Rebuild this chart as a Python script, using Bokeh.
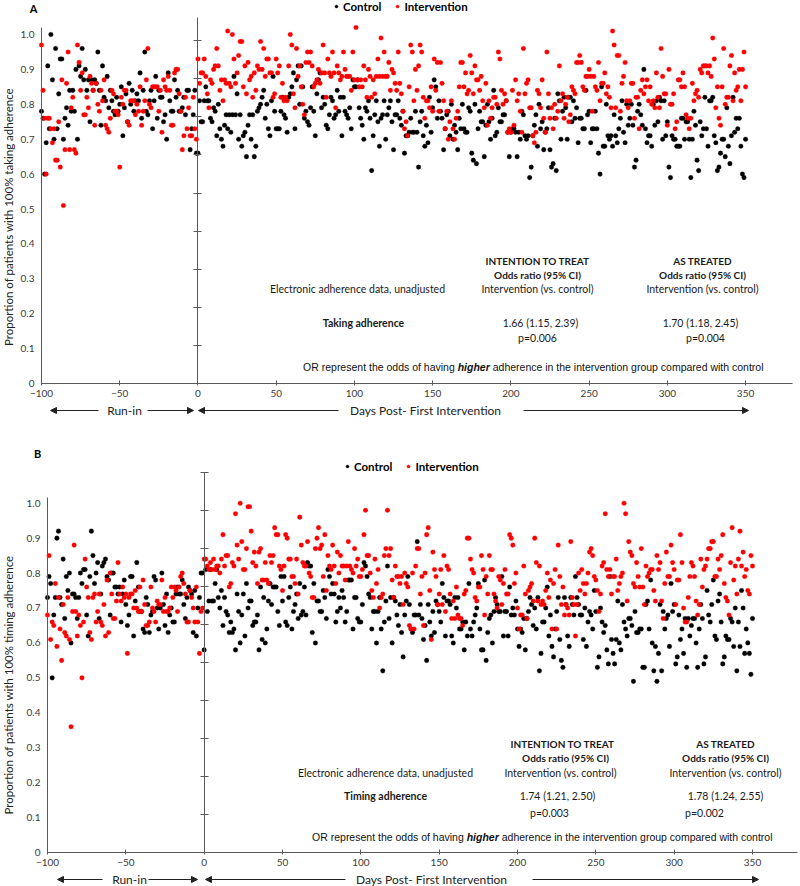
import math
from bokeh.plotting import figure
from bokeh.models import (Range1d, LinearAxis, FixedTicker, Label, Arrow, NormalHead,
                          Legend, LegendItem, CustomJSTickFormatter)
from bokeh.layouts import column
from bokeh.embed import file_html
from bokeh.resources import INLINE

# ---------------- data (daily proportions, in percent) ----------------
SERIES_NAMES = ["Control", "Intervention"]
SERIES_COLORS = ["#000000", "#ff0000"]
X_TICKS = [-100, -50, 0, 50, 100, 150, 200, 250, 300, 350]
Y_TICKS = [0, 0.1, 0.2, 0.3, 0.4, 0.5, 0.6, 0.7, 0.8, 0.9, 1.0]
INNER_TICKS_A = [0.1, 0.2, 0.3, 0.4, 0.5, 0.6, 0.7, 0.8, 0.9]
INNER_TICKS_B = [0.1, 0.2, 0.3, 0.4, 0.5, 0.6, 0.7, 0.8, 0.9, 1.0]
RUNIN_START = -100

A_CTRL_RUNIN = [
    78, 76, 60, 69, 91, 73, 100, 87, 70, 96,
    73, 83, 93, 93, 70, 76, 79, 74, 84, 78,
    84, 78, 90, 70, 91, 88, 96, 87, 90, 84,
    87, 75, 87, 84, 87, 86, 95, 84, 74, 91,
    82, 81, 88, 79, 84, 81, 78, 77, 82, 78,
    80, 85, 71, 79, 83, 75, 86, 80, 84, 78,
    81, 83, 81, 89, 76, 84, 95, 78, 77, 81,
    84, 73, 81, 88, 76, 84, 82, 82, 75, 77,
    70, 89, 81, 78, 78, 87, 82, 84, 78, 78,
    79, 82, 77, 84, 84, 67, 73, 77, 84, 66]
A_INT_RUNIN = [
    97, 84, 76, 60, 76, 76, 73, 69, 73, 64,
    64, 75, 62, 87, 51, 67, 86, 95, 67, 79,
    82, 67, 66, 97, 92, 84, 89, 77, 77, 82,
    79, 88, 86, 84, 74, 86, 80, 78, 84, 81,
    87, 74, 73, 72, 76, 84, 83, 78, 78, 77,
    62, 82, 80, 84, 84, 75, 74, 81, 81, 81,
    77, 80, 78, 85, 74, 78, 81, 87, 96, 80,
    79, 85, 85, 85, 85, 78, 84, 72, 87, 85,
    84, 88, 84, 74, 74, 89, 90, 90, 83, 78,
    67, 71, 82, 73, 79, 71, 71, 82, 73, 70]
A_CTRL_MAIN = [
    66, 81, 75, 75, 81, 85, 81, 81, 76, 75, 79,
    78, 71, 80, 73, 70, 68, 74, 77, 73, 77, 72,
    77, 88, 77, 83, 70, 77, 68, 71, 72, 65, 74,
    77, 70, 77, 65, 68, 78, 79, 80, 82, 84, 76,
    80, 73, 71, 81, 88, 78, 73, 73, 73, 78, 82,
    77, 76, 72, 82, 83, 85, 89, 73, 87, 91, 80,
    91, 85, 76, 78, 75, 74, 79, 85, 78, 71, 83,
    87, 89, 79, 82, 80, 74, 73, 77, 82, 81, 76,
    77, 84, 78, 82, 71, 82, 78, 77, 76, 79, 73,
    87, 85, 85, 87, 79, 76, 74, 70, 79, 78, 81,
    76, 61, 71, 77, 81, 75, 68, 76, 77, 81, 70,
    77, 79, 81, 75, 67, 77, 77, 81, 76, 74, 78,
    66, 71, 71, 72, 76, 72, 72, 78, 72, 62, 75,
    78, 71, 68, 74, 69, 82, 72, 79, 87, 85,
    76, 81, 78, 76, 67, 73, 77, 78, 71, 80,
    70, 74, 72, 67, 76, 73, 80, 73, 72, 72,
    79,
    78, 66, 64, 80, 63, 73, 78, 75, 75, 65, 74,
    80, 75, 70, 76, 84, 71, 72, 79, 75, 75, 77,
    77, 81, 72, 65, 72, 73, 73, 72, 65, 72, 70,
    78, 77, 71, 70, 71, 59, 62, 71, 74, 77, 68,
    80, 73, 75, 67, 72, 73, 79, 67, 62, 63, 76,
    61, 83, 81, 70, 78, 82, 79, 70, 82, 82, 75,
    81, 76, 79, 69, 76, 76, 73, 73, 84, 77, 78,
    69, 73, 73, 78, 73, 66, 60, 85, 68, 68, 80,
    71, 70, 71, 68, 77, 71, 69, 73, 76, 81, 72,
    69, 80, 74, 76, 80, 74, 62, 64, 78, 80, 77,
    74, 90, 73, 69, 71, 71, 68, 80, 74, 81,
    75, 82, 81, 70, 81, 71, 75, 62, 59, 71,
    70, 70, 68, 68, 68, 76, 76, 70, 75, 75,
    70, 59, 70, 78, 74, 64, 61, 75, 71, 73,
    82, 73, 68, 81, 81, 82, 71, 69, 61, 62,
    66, 70, 70, 65, 79, 68, 63, 71, 82, 72,
    76, 73, 76, 68, 60, 59, 70]
A_INT_MAIN = [
    93, 86, 89, 89, 93, 88, 83, 79, 87, 86, 90,
    91, 96, 91, 84, 87, 81, 87, 86, 101, 86, 85,
    100, 93, 86, 89, 94, 98, 98, 85, 91, 83, 92,
    87, 88, 82, 89, 84, 91, 90, 98, 90, 96, 88,
    93, 93, 89, 89, 82, 83, 93, 89, 91, 82, 86,
    81, 82, 81, 91, 100, 97, 83, 79, 96, 88, 91,
    85, 80, 77, 92, 95, 92, 95, 91, 85, 86, 87,
    90, 86, 89, 97, 89, 82, 93, 89, 88, 95, 89,
    79, 91, 89, 87, 88, 95, 90, 88, 88, 88, 84,
    95, 87, 102, 87, 85, 87, 85, 91, 87, 82, 90,
    88, 82, 87, 83, 88, 93, 88, 99, 88, 95,
    88, 88, 92, 84, 90, 89, 86, 84, 95, 86,
    83, 78, 73, 75, 71, 85, 97, 95, 81, 90,
    84, 91, 97, 95, 82, 76, 81, 81, 79, 85,
    78, 93, 84, 92, 78, 92, 86, 81, 73, 78,
    70, 75, 81, 73, 70, 76, 78, 85, 92, 92,
    85, 89, 83, 84,
    94, 89, 83, 91, 87, 87, 84, 88, 81, 79, 86,
    74, 81, 76, 79, 82, 82, 80, 95, 93, 84, 80,
    83, 81, 72, 73, 72, 84, 74, 87, 81, 83, 78,
    72, 96, 83, 86, 87, 79, 79, 71, 69, 72, 84,
    83, 79, 87, 76, 72, 95, 83, 76, 79, 73, 80,
    76, 78, 91, 81, 83, 76, 80, 82, 75, 77, 85,
    84, 83, 92, 92, 94, 92, 85, 84, 88, 88, 90,
    88, 78, 88, 85, 84, 92, 81, 86, 86, 89, 83,
    85, 82, 79, 101, 97, 79, 94, 94, 78, 86, 88,
    92, 81, 79, 81, 86, 86, 76, 82, 82, 73, 84,
    87, 83, 85, 87, 81, 85, 80, 81, 79, 89, 82,
    79, 96, 88, 83, 83, 74, 90, 80, 80, 83,
    73, 75, 87, 87, 85, 89, 85, 77, 76, 73,
    76, 86, 81, 83, 84, 82, 90, 89, 91, 91,
    91, 89, 91, 88, 99, 93, 79, 85, 76, 74,
    85, 96, 80, 82, 82, 91, 94, 81, 89, 84,
    85, 90, 81, 90, 95, 85]

B_CTRL_RUNIN = [
    73, 79, 77, 50, 68, 73, 90, 92, 73, 71,
    84, 67, 79, 75, 80, 60, 74, 74, 73, 67,
    73, 80, 77, 81, 81, 68, 62, 79, 92, 85,
    77, 80, 83, 67, 74, 82, 83, 84, 79, 78,
    68, 80, 80, 76, 76, 74, 76, 66, 74, 78,
    71, 65, 68, 79, 79, 62, 72, 83, 76, 69,
    69, 64, 63, 73, 71, 63, 68, 69, 79, 78,
    70, 64, 70, 80, 71, 65, 74, 63, 68, 70,
    66, 66, 74, 76, 74, 74, 78, 71, 67, 73,
    76, 75, 74, 63, 75, 62, 70, 73, 80, 80]
B_INT_RUNIN = [
    68, 85, 61, 66, 65, 77, 59, 73, 64, 55,
    71, 63, 62, 73, 61, 36, 69, 88, 69, 62,
    68, 65, 50, 66, 84, 76, 73, 63, 61, 73,
    74, 66, 69, 74, 66, 65, 71, 62, 78, 63,
    80, 74, 67, 67, 72, 83, 74, 72, 76, 73,
    74, 57, 73, 74, 74, 70, 75, 70, 69, 76,
    69, 78, 71, 65, 65, 66, 76, 70, 69, 66,
    72, 71, 71, 78, 69, 73, 69, 69, 70, 76,
    73, 76, 75, 69, 76, 79, 80, 77, 74, 66,
    66, 75, 73, 70, 66, 76, 66, 57, 69, 70]
B_CTRL_MAIN = [
    58, 81, 69, 72, 81, 72, 72, 77, 81, 73, 70,
    75, 65, 73, 69, 68, 63, 66, 63, 64, 58, 74,
    69, 60, 68, 74, 62, 77, 70, 72, 72, 65, 66,
    66, 68, 58, 76, 61, 73, 60, 64, 72, 77, 71,
    76, 76, 76, 69, 65, 79, 72, 79, 66, 65, 73,
    76, 64, 69, 71, 74, 67, 77, 68, 69, 76, 68,
    83, 82, 82, 63, 77, 60, 72, 72, 69, 69, 75,
    73, 67, 81, 79, 74, 77, 74, 66, 69, 73, 70,
    75, 73, 66, 69, 78, 78, 78, 64, 73, 73, 67,
    66, 66, 71, 83, 82, 79, 74, 73, 64, 69,
    69, 60, 69, 73, 64, 52, 66, 72, 82, 67,
    73, 60, 73, 72, 68, 65, 71, 63, 56, 68,
    72, 79, 71, 64, 63, 68, 68, 89, 68, 71,
    67, 61, 65, 55, 71, 66, 62, 69, 63, 72,
    71, 69, 66, 77, 73, 62, 72, 72, 71, 62,
    60, 73, 70, 73, 64, 64, 66, 58, 66, 62,
    77, 64, 62, 66, 68, 70, 77, 64, 58, 58,
    78, 55, 63, 67, 68, 60, 69, 73, 71, 69,
    69, 79, 62, 69, 69, 62, 76, 68, 70, 68, 72,
    64, 59, 64, 63, 67, 58, 67, 69, 73, 71, 65,
    70, 64, 73, 52, 57, 66, 66, 70, 76, 62, 68,
    59, 56, 64, 69, 73, 61, 55, 53, 73, 71, 62,
    59, 73, 71, 68, 79, 73, 71, 68, 68, 61, 70,
    59, 66, 69, 68, 64, 75, 69, 53, 56, 70, 66,
    63, 65, 58, 54, 79, 61, 57, 54, 61, 72, 60,
    58, 71, 66, 64, 62, 67, 67, 65, 49, 69, 63,
    63, 64, 64, 53, 53, 71, 72, 64, 78, 60,
    52, 59, 49, 57, 71, 52, 69, 64, 67, 68,
    59, 77, 69, 71, 54, 56, 68, 61, 64, 57,
    67, 53, 67, 62, 65, 67, 67, 60, 53, 64,
    71, 67, 54, 56, 75, 68, 66, 71, 78, 62,
    61, 72, 74, 66, 54, 56, 62, 61, 61, 67,
    66, 59, 70, 52, 66, 59, 75, 70, 57, 64,
    60, 57, 51, 67]
B_INT_MAIN = [
    84, 84, 82, 81, 83, 81, 84, 81, 82, 82, 80,
    84, 91, 82, 85, 85, 76, 77, 83, 82, 97, 88,
    84, 100, 89, 81, 81, 87, 99, 99, 92, 83, 86,
    82, 77, 86, 87, 78, 78, 83, 78, 77, 85, 83,
    85, 93, 91, 91, 82, 81, 75, 82, 91, 90, 84,
    84, 79, 79, 77, 84, 74, 96, 88, 83, 82, 82,
    89, 80, 79, 73, 73, 87, 90, 93, 87, 88, 79,
    91, 75, 85, 82, 81, 88, 82, 77, 86, 80, 85,
    82, 82, 78, 82, 89, 82, 81, 80, 87, 82,
    84, 79, 79, 81, 91, 98, 85, 85, 80, 75,
    73, 84, 77, 81, 70, 73, 74, 85, 87, 98,
    85, 87, 78, 73, 82, 79, 79, 77, 79, 71,
    80, 77, 76, 65, 64, 80, 64, 82, 87, 87,
    74, 79, 65, 80, 91, 93, 75, 61, 86, 81,
    79, 71, 74, 81, 71, 85, 69, 82, 81, 74,
    67, 72, 67, 76, 68, 67, 67, 65, 74, 75,
    90, 90, 84, 81, 80, 73, 72, 76, 76, 85,
    81, 68, 79, 74, 85, 81, 81, 74, 72, 70,
    79,
    78, 71, 77, 81, 74, 74, 91, 90, 88, 77, 80,
    70, 64, 68, 68, 82, 74, 67, 75, 76, 77, 72,
    90, 83, 72, 82, 71, 72, 71, 75, 80, 73, 78,
    64, 77, 81, 64, 88, 79, 71, 76, 68, 71, 70,
    68, 89, 73, 71, 62, 71, 80, 75, 81, 77, 74,
    77, 80, 86, 87, 85, 79, 78, 75, 69, 74, 82,
    83, 97, 81, 79, 81, 74, 79, 79, 84, 75, 77,
    79, 80, 100, 97, 72, 89, 86, 85, 77, 76, 83,
    79, 76, 87, 76, 71, 82, 79, 80, 81, 81, 75,
    72, 85, 81, 83, 72, 67, 77, 86, 79, 79,
    88, 83, 81, 71, 78, 78, 91, 83, 70, 66,
    66, 73, 79, 83, 82, 79, 72, 68, 71, 84,
    76, 81, 82, 84, 87, 87, 89, 89, 79, 79,
    84, 81, 85, 91, 77, 73, 72, 68, 83, 93,
    78, 82, 74, 84, 92, 82, 86, 79, 81, 75,
    74, 85, 82]

# ---------------- styling ----------------
CAL = "Lato"
ARI = "Liberation Sans"
INK = "#1a1a1a"
AXC = "#5a5a5a"
TICKC = "#3a3a3a"

ARIAL_W = {' ': 278, 'a': 556, 'b': 556, 'c': 500, 'd': 556, 'e': 556, 'f': 278, 'g': 556,
           'h': 556, 'i': 222, 'j': 222, 'k': 500, 'l': 222, 'm': 833, 'n': 556, 'o': 556,
           'p': 556, 'q': 556, 'r': 333, 's': 500, 't': 278, 'u': 556, 'v': 500, 'w': 722,
           'x': 500, 'y': 500, 'z': 500, 'O': 778, 'R': 722}
ARIAL_BW = {'h': 611, 'i': 278, 'g': 611, 'e': 556, 'r': 389}


def tw(s, size, table):
    return sum(table.get(c, 556) for c in s) * size / 1000.0


def build(spec):
    # geometry in reference pixels: canvas box, x/y origin and scales
    CX0, CY0, CX1, CY1 = spec["canvas"]
    X100, KX = spec["x_at_m100"], spec["kx"]
    Y0, KY = spec["y_at_0"], spec["ky"]
    x_lo = RUNIN_START - (X100 - CX0) / KX
    x_hi = RUNIN_START + (CX1 - X100) / KX
    y_hi = (Y0 - CY0) / KY
    y_lo = -(CY1 - Y0) / KY
    KI = spec["k_inner"]

    p = figure(width=CX1 - CX0, height=CY1 - CY0, title=None,
               min_border_left=0, min_border_right=0, min_border_top=0, min_border_bottom=0,
               x_range=Range1d(x_lo, x_hi), y_range=Range1d(y_lo, y_hi),
               output_backend="svg", toolbar_location=None, outline_line_color=None)
    p.xgrid.visible = False
    p.ygrid.visible = False

    # left (labelled) y axis, drawn at day -100
    ya = p.yaxis[0]
    ya.fixed_location = RUNIN_START
    ya.ticker = FixedTicker(ticks=Y_TICKS)
    ya.formatter = CustomJSTickFormatter(code="return tick == 0 ? '0' : tick.toFixed(1);")
    ya.bounds = (0, spec["ybound"])
    ya.major_tick_in = 0
    ya.major_tick_out = 0
    ya.minor_tick_in = 0
    ya.minor_tick_out = 0
    ya.axis_line_color = AXC
    ya.major_label_text_font = CAL
    ya.major_label_text_font_size = "10px"
    ya.major_label_text_color = TICKC
    ya.major_label_standoff = 7

    # x axis, drawn at proportion 0
    xa = p.xaxis[0]
    xa.fixed_location = 0
    xa.ticker = FixedTicker(ticks=X_TICKS)
    xa.bounds = (RUNIN_START, spec["xbound"])
    xa.major_tick_in = 3
    xa.major_tick_out = 2
    xa.minor_tick_in = 0
    xa.minor_tick_out = 0
    xa.axis_line_color = AXC
    xa.major_tick_line_color = AXC
    xa.major_label_text_font = CAL
    xa.major_label_text_font_size = "10px"
    xa.major_label_text_color = TICKC
    xa.major_label_standoff = 4

    # inner axis of the post-intervention part (unlabelled, at day 0)
    p.extra_y_ranges = {"inner": Range1d(-(CY1 - Y0) / KI, (Y0 - CY0) / KI)}
    ia = LinearAxis(y_range_name="inner", fixed_location=0,
                    ticker=FixedTicker(ticks=spec["inner_ticks"]),
                    formatter=CustomJSTickFormatter(code="return '';"),
                    bounds=(0, (Y0 - spec["inner_top_y"]) / KI),
                    major_tick_in=4, major_tick_out=4, minor_tick_in=0, minor_tick_out=0,
                    axis_line_color=AXC, major_tick_line_color=AXC)
    p.add_layout(ia, "left")

    renderers = []
    for runin, main, color in zip(spec["runin"], spec["main"], SERIES_COLORS):
        days = list(range(RUNIN_START, 0)) + list(range(0, len(main)))
        vals = [v / 100.0 for v in runin + main]
        r = p.scatter(days, vals, size=4.6, fill_color=color, line_color=color, line_width=0.3)
        renderers.append(r)

    def put(x, y, text, size, font=CAL, style="normal", align="center", color=INK, angle=0.0):
        p.add_layout(Label(x=x - CX0, y=CY1 - y, x_units="screen", y_units="screen", text=text,
                           text_font=font, text_font_size=f"{size}px", text_font_style=style,
                           text_align=align, text_baseline="middle", text_color=color,
                           angle=angle))

    def arrow(x0, x1, y):
        p.add_layout(Arrow(end=NormalHead(size=6, fill_color="#222222", line_color="#222222"),
                           x_start=x0 - CX0, y_start=CY1 - y, x_end=x1 - CX0, y_end=CY1 - y,
                           start_units="screen", end_units="screen",
                           line_color="#222222", line_width=1))

    # panel letter and legend
    lx, ly = spec["letter"]
    put(lx, ly, spec["letter_text"], 11, style="bold", color="#000000")
    gx, gy = spec["legend"]
    legend = Legend(items=[LegendItem(label=SERIES_NAMES[0], renderers=[renderers[0]]),
                           LegendItem(label=SERIES_NAMES[1], renderers=[renderers[1]])],
                    orientation="horizontal", location=(gx - CX0, CY1 - gy - 7),
                    glyph_width=8, glyph_height=8, label_standoff=3, spacing=12,
                    padding=0, margin=0, label_height=14,
                    border_line_color=None, background_fill_alpha=0,
                    label_text_font=CAL, label_text_font_style="bold",
                    label_text_font_size="11.5px", label_text_color="#000000")
    p.add_layout(legend)

    # y axis title
    tx, ty = spec["ylabel_pos"]
    put(tx, ty, spec["ylabel"], 11.5, angle=math.pi / 2, color="#222222")

    # statistics table
    for (x, y, text, size, style) in spec["table"]:
        put(x, y, text, size, style=style)

    # sentence with emphasised word
    rx, ry = spec["or_pos"]
    fs = 10.5
    p1 = "OR represent the odds of having"
    p2 = "higher"
    p3 = "adherence in the intervention group compared with control"
    sp = tw(" ", fs, ARIAL_W)
    w1, w2, w3 = tw(p1, fs, ARIAL_W), tw(p2, fs, ARIAL_BW), tw(p3, fs, ARIAL_W)
    x0 = rx - (w1 + sp + w2 + sp + w3)
    put(x0, ry, p1, fs, font=ARI, align="left", color="#111111")
    put(x0 + w1 + sp, ry, p2, fs, font=ARI, style="bold italic", align="left", color="#111111")
    put(x0 + w1 + sp + w2 + sp, ry, p3, fs, font=ARI, align="left", color="#111111")

    # bottom arrows / period names
    ay = spec["arrow_y"]
    for (a0, a1) in spec["arrows"]:
        arrow(a0, a1, ay)
    for (x, text) in spec["periods"]:
        put(x, ay, text, 12, color="#222222")
    return p


# geometry is given in reference-image pixels (the page has no offset)
SPEC_A = dict(
    canvas=(0, 0, 800, 438), x_at_m100=41, kx=751 / 480, y_at_0=383, ky=349.0,
    k_inner=381.0, inner_top_y=17, ybound=1.02, xbound=380, inner_ticks=INNER_TICKS_A,
    runin=[A_CTRL_RUNIN, A_INT_RUNIN], main=[A_CTRL_MAIN, A_INT_MAIN],
    letter=(33, 8), letter_text="A", legend=(332, 6),
    ylabel_pos=(8, 215), ylabel="Proportion of patients with 100%  taking adherence",
    table=[(537, 260, "INTENTION TO TREAT", 10, "bold"),
           (537, 274, "Odds ratio (95% CI)", 10, "bold"),
           (702, 260, "AS TREATED", 10, "bold"),
           (702, 274, "Odds ratio (95% CI)", 10, "bold"),
           (357, 288, "Electronic adherence data, unadjusted", 10.5, "normal"),
           (537, 288, "Intervention (vs. control)", 10.5, "normal"),
           (702, 288, "Intervention (vs. control)", 10.5, "normal"),
           (363, 322, "Taking adherence", 10.5, "bold"),
           (540, 322, "1.66 (1.15, 2.39)", 10.5, "normal"),
           (700, 322, "1.70 (1.18, 2.45)", 10.5, "normal"),
           (537, 337, "p=0.006", 10.5, "normal"),
           (705, 337, "p=0.004", 10.5, "normal")],
    or_pos=(763, 366), arrow_y=410,
    arrows=[(98, 50), (147, 193), (338, 198), (523, 748)],
    periods=[(124, "Run-in"), (425, "Days Post- First Intervention")])

SPEC_B = dict(
    canvas=(0, 438, 800, 886), x_at_m100=47, kx=705 / 450, y_at_0=852, ky=349.3,
    k_inner=380.0, inner_top_y=472, ybound=1.015, xbound=379, inner_ticks=INNER_TICKS_B,
    runin=[B_CTRL_RUNIN, B_INT_RUNIN], main=[B_CTRL_MAIN, B_INT_MAIN],
    letter=(37, 453), letter_text="B", legend=(343, 466),
    ylabel_pos=(8, 683), ylabel="Proportion of patients with 100%  timing adherence",
    table=[(562, 743, "INTENTION TO TREAT", 10, "bold"),
           (565, 757, "Odds ratio (95% CI)", 10, "bold"),
           (725, 743, "AS TREATED", 10, "bold"),
           (725, 757, "Odds ratio (95% CI)", 10, "bold"),
           (385, 772, "Electronic adherence data, unadjusted", 10.5, "normal"),
           (560, 772, "Intervention (vs. control)", 10.5, "normal"),
           (725, 772, "Intervention (vs. control)", 10.5, "normal"),
           (385, 795, "Timing adherence", 10.5, "bold"),
           (557, 795, "1.74 (1.21, 2.50)", 10.5, "normal"),
           (725, 795, "1.78 (1.24, 2.55)", 10.5, "normal"),
           (549, 812, "p=0.003", 10.5, "normal"),
           (704, 812, "p=0.002", 10.5, "normal")],
    or_pos=(772, 836), arrow_y=879,
    arrows=[(102, 57), (148, 197), (345, 205), (532, 758)],
    periods=[(129, "Run-in"), (431, "Days Post- First Intervention")])

pa = build(SPEC_A)
pb = build(SPEC_B)
layout = column(pa, pb, spacing=0)
open("out.html", "w").write(file_html(layout, INLINE))
